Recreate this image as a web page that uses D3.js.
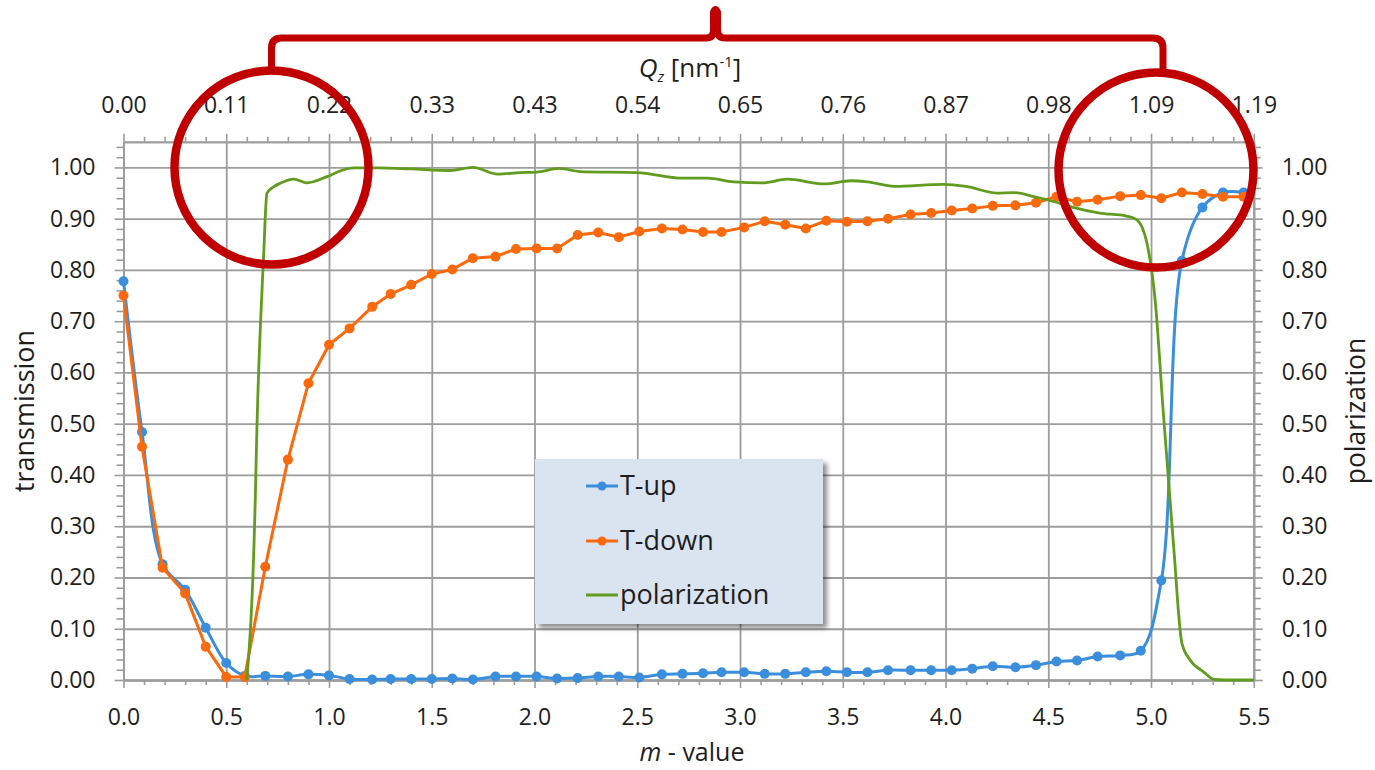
<!DOCTYPE html>
<html>
<head>
<meta charset="utf-8">
<script src="https://cdn.jsdelivr.net/npm/d3@7"></script>
<style>
  html, body { margin: 0; padding: 0; background: #ffffff; }
  svg { display: block; }
  text { font-family: "Open Sans", "Noto Sans", sans-serif; fill: #1e1e1e; }
</style>
</head>
<body>
<svg id="chart" width="1375" height="770"></svg>
<script>
// m-value of each measured point (shared by T-up and T-down)
const mValues = [0.00, 0.09, 0.19, 0.30, 0.40, 0.50, 0.59, 0.69, 0.80, 0.90,
  1.00, 1.10, 1.21, 1.30, 1.40, 1.50, 1.60, 1.70, 1.81, 1.91,
  2.01, 2.11, 2.21, 2.31, 2.41, 2.51, 2.62, 2.72, 2.82, 2.91,
  3.02, 3.12, 3.22, 3.32, 3.42, 3.52, 3.62, 3.72, 3.83, 3.93,
  4.03, 4.13, 4.23, 4.34, 4.44, 4.54, 4.64, 4.74, 4.85, 4.95,
  5.05, 5.15, 5.25, 5.35, 5.45];

// transmission, spin up
const tUp = [0.778, 0.484, 0.226, 0.176, 0.102, 0.033, 0.008, 0.008, 0.007, 0.011,
  0.009, 0.002, 0.001, 0.002, 0.002, 0.002, 0.003, 0.001, 0.007, 0.007,
  0.007, 0.003, 0.004, 0.007, 0.007, 0.005, 0.011, 0.012, 0.013, 0.015,
  0.015, 0.012, 0.012, 0.015, 0.017, 0.015, 0.015, 0.019, 0.019, 0.019,
  0.019, 0.022, 0.027, 0.025, 0.029, 0.036, 0.038, 0.046, 0.048, 0.057,
  0.194, 0.818, 0.922, 0.951, 0.951];

// transmission, spin down
const tDown = [0.750, 0.455, 0.219, 0.169, 0.065, 0.006, 0.006, 0.221, 0.430, 0.579,
  0.654, 0.686, 0.728, 0.753, 0.771, 0.792, 0.801, 0.823, 0.826, 0.841,
  0.842, 0.842, 0.868, 0.873, 0.864, 0.875, 0.881, 0.879, 0.874, 0.874,
  0.883, 0.895, 0.888, 0.881, 0.896, 0.894, 0.895, 0.900, 0.908, 0.911,
  0.916, 0.920, 0.925, 0.926, 0.931, 0.943, 0.933, 0.937, 0.944, 0.946,
  0.940, 0.951, 0.948, 0.943, 0.943];

// polarization curve (denser sampling)
const polM = [0.60, 0.641, 0.649, 0.681, 0.698, 0.73, 0.762, 0.829, 0.892, 0.99,
  1.06, 1.12, 1.24, 1.40, 1.59, 1.70, 1.82, 1.93, 2.01, 2.12,
  2.22, 2.50, 2.72, 2.84, 2.97, 3.11, 3.23, 3.41, 3.54, 3.62,
  3.75, 3.99, 4.10, 4.25, 4.33, 4.43, 4.53, 4.62, 4.75, 4.88,
  4.93, 4.98, 5.02, 5.06, 5.085, 5.11, 5.15, 5.19, 5.255, 5.31,
  5.40, 5.50];
const polV = [0.000, 0.350, 0.488, 0.820, 0.950, 0.962, 0.969, 0.977, 0.970, 0.982,
  0.994, 0.999, 0.999, 0.997, 0.994, 1.000, 0.987, 0.990, 0.991, 0.998,
  0.992, 0.990, 0.979, 0.979, 0.972, 0.970, 0.977, 0.968, 0.974, 0.972,
  0.963, 0.967, 0.963, 0.950, 0.951, 0.943, 0.933, 0.922, 0.911, 0.905,
  0.898, 0.852, 0.741, 0.520, 0.390, 0.260, 0.072, 0.039, 0.016, 0.001,
  0.000, 0.000];

// axis ticks
const mTicks = [0, 0.5, 1.0, 1.5, 2.0, 2.5, 3.0, 3.5, 4.0, 4.5, 5.0, 5.5];
const mTickLabels = ["0.0", "0.5", "1.0", "1.5", "2.0", "2.5", "3.0", "3.5", "4.0", "4.5", "5.0", "5.5"];
const qzTickLabels = ["0.00", "0.11", "0.22", "0.33", "0.43", "0.54", "0.65", "0.76", "0.87", "0.98", "1.09", "1.19"];
const mMinorTicks = [0.1, 0.2, 0.3, 0.4, 0.6, 0.7, 0.8, 0.9, 1.1, 1.2, 1.3, 1.4, 1.6, 1.7, 1.8, 1.9,
  2.1, 2.2, 2.3, 2.4, 2.6, 2.7, 2.8, 2.9, 3.1, 3.2, 3.3, 3.4, 3.6, 3.7, 3.8, 3.9,
  4.1, 4.2, 4.3, 4.4, 4.6, 4.7, 4.8, 4.9, 5.1, 5.2, 5.3, 5.4];
const yTicks = [0, 0.1, 0.2, 0.3, 0.4, 0.5, 0.6, 0.7, 0.8, 0.9, 1.0];
const yMinorTicks = [0.02, 0.04, 0.06, 0.08, 0.12, 0.14, 0.16, 0.18, 0.22, 0.24, 0.26, 0.28,
  0.32, 0.34, 0.36, 0.38, 0.42, 0.44, 0.46, 0.48, 0.52, 0.54, 0.56, 0.58,
  0.62, 0.64, 0.66, 0.68, 0.72, 0.74, 0.76, 0.78, 0.82, 0.84, 0.86, 0.88,
  0.92, 0.94, 0.96, 0.98, 1.02, 1.04];

const seriesNames = ["T-up", "T-down", "polarization"];
const colors = { up: "#3a8edc", down: "#fa6a0c", pol: "#629c1e" };

const svg = d3.select("#chart");

const plot = { left: 123.5, right: 1253.8, top: 141.8, bottom: 680 };
const x = d3.scaleLinear().domain([0, 5.5]).range([plot.left, plot.right]);
const y = d3.scaleLinear().domain([0, 1.05]).range([plot.bottom, plot.top]);

const gridColor = "#9c9c9c";
const tickFont = 23;

// ---- grid lines ----
const grid = svg.append("g");
grid.append("g")
  .attr("transform", `translate(${plot.left},0)`)
  .call(d3.axisLeft(y).tickValues(yTicks).tickSize(-(plot.right - plot.left)).tickFormat(""))
  .call(g => g.select(".domain").remove());
grid.append("g")
  .attr("transform", `translate(0,${plot.bottom})`)
  .call(d3.axisBottom(x).tickValues(mTicks).tickSize(-(plot.bottom - plot.top)).tickFormat(""))
  .call(g => g.select(".domain").remove());
grid.selectAll("line").attr("stroke", gridColor).attr("stroke-width", 1.8);

// ---- axes ----
function styleAxis(g) {
  g.selectAll(".domain").attr("stroke", gridColor).attr("stroke-width", 1.8);
  g.selectAll(".tick line").attr("stroke", gridColor).attr("stroke-width", 1.6);
  g.selectAll("text").attr("font-size", tickFont).attr("fill", "#1e1e1e")
    .style("font-family", '"Open Sans", sans-serif');
}

// left
svg.append("g").attr("transform", `translate(${plot.left},0)`)
  .call(d3.axisLeft(y).tickValues(yMinorTicks).tickSize(7).tickSizeOuter(0).tickFormat(""))
  .call(styleAxis);
svg.append("g").attr("transform", `translate(${plot.left},0)`)
  .call(d3.axisLeft(y).tickValues(yTicks).tickSize(9).tickSizeOuter(0).tickPadding(19).tickFormat(d3.format(".2f")))
  .call(styleAxis);

// right
svg.append("g").attr("transform", `translate(${plot.right},0)`)
  .call(d3.axisRight(y).tickValues(yMinorTicks).tickSize(7).tickSizeOuter(0).tickFormat(""))
  .call(styleAxis);
svg.append("g").attr("transform", `translate(${plot.right},0)`)
  .call(d3.axisRight(y).tickValues(yTicks).tickSize(9).tickSizeOuter(0).tickPadding(19).tickFormat(d3.format(".2f")))
  .call(styleAxis);

// bottom
svg.append("g").attr("transform", `translate(0,${plot.bottom})`)
  .call(d3.axisBottom(x).tickValues(mMinorTicks).tickSize(5).tickSizeOuter(0).tickFormat(""))
  .call(styleAxis);
svg.append("g").attr("transform", `translate(0,${plot.bottom})`)
  .call(d3.axisBottom(x).tickValues(mTicks).tickSize(8).tickSizeOuter(0).tickFormat((d, i) => mTickLabels[i]))
  .call(styleAxis)
  .call(g => g.selectAll("text").attr("y", 45).attr("dy", 0));

// top (Qz)
svg.append("g").attr("transform", `translate(0,${plot.top})`)
  .call(d3.axisTop(x).tickValues(mMinorTicks).tickSize(5).tickSizeOuter(0).tickFormat(""))
  .call(styleAxis);
svg.append("g").attr("transform", `translate(0,${plot.top})`)
  .call(d3.axisTop(x).tickValues(mTicks).tickSize(8).tickSizeOuter(0).tickFormat((d, i) => qzTickLabels[i]))
  .call(styleAxis)
  .call(g => g.selectAll("text").attr("y", -29).attr("dy", 0));

// ---- axis titles ----
const bottomTitle = svg.append("text")
  .attr("x", 692).attr("y", 761).attr("text-anchor", "middle").attr("font-size", 25);
bottomTitle.append("tspan").attr("font-style", "italic").text("m");
bottomTitle.append("tspan").text(" - value");

const topTitle = svg.append("text")
  .attr("x", 690).attr("y", 77).attr("text-anchor", "middle").attr("font-size", 26);
topTitle.append("tspan").attr("font-style", "italic").text("Q");
topTitle.append("tspan").attr("font-style", "italic").attr("font-size", 15).attr("dy", 5).text("z");
topTitle.append("tspan").attr("dy", -5).text(" [nm");
topTitle.append("tspan").attr("font-size", 15).attr("dy", -10).text("-1");
topTitle.append("tspan").attr("dy", 10).text("]");

svg.append("text")
  .attr("transform", "translate(34,411) rotate(-90)")
  .attr("text-anchor", "middle").attr("font-size", 27).text("transmission");
svg.append("text")
  .attr("transform", "translate(1365,411) rotate(-90)")
  .attr("text-anchor", "middle").attr("font-size", 26.5).text("polarization");

// ---- series ----
const upPts = mValues.map((m, i) => [m, tUp[i]]);
const downPts = mValues.map((m, i) => [m, tDown[i]]);
const polPts = polM.map((m, i) => [m, polV[i]]);

const smooth = d3.line().x(d => x(d[0])).y(d => y(d[1])).curve(d3.curveCatmullRom.alpha(0.5));
const straight = d3.line().x(d => x(d[0])).y(d => y(d[1])).curve(d3.curveLinear);
const mono = d3.line().x(d => x(d[0])).y(d => y(d[1])).curve(d3.curveMonotoneX);

const series = svg.append("g");

series.append("path").datum(upPts)
  .attr("d", smooth).attr("fill", "none").attr("stroke", colors.up)
  .attr("stroke-width", 3).attr("stroke-linejoin", "round");
series.append("g").selectAll("circle").data(upPts).join("circle")
  .attr("cx", d => x(d[0])).attr("cy", d => y(d[1])).attr("r", 5).attr("fill", colors.up);

series.append("path").datum(downPts)
  .attr("d", straight).attr("fill", "none").attr("stroke", colors.down)
  .attr("stroke-width", 3).attr("stroke-linejoin", "round");
series.append("g").selectAll("circle").data(downPts).join("circle")
  .attr("cx", d => x(d[0])).attr("cy", d => y(d[1])).attr("r", 5).attr("fill", colors.down);

series.append("path").datum(polPts)
  .attr("d", mono).attr("fill", "none").attr("stroke", colors.pol)
  .attr("stroke-width", 2.8).attr("stroke-linejoin", "round");

// ---- legend ----
const defs = svg.append("defs");
const shadow = defs.append("filter").attr("id", "legendShadow")
  .attr("x", "-10%").attr("y", "-10%").attr("width", "130%").attr("height", "130%");
shadow.append("feGaussianBlur").attr("in", "SourceAlpha").attr("stdDeviation", 2.5).attr("result", "b");
shadow.append("feOffset").attr("in", "b").attr("dx", 4).attr("dy", 4).attr("result", "o");
shadow.append("feComponentTransfer").attr("in", "o").attr("result", "s")
  .append("feFuncA").attr("type", "linear").attr("slope", 0.45);
const merge = shadow.append("feMerge");
merge.append("feMergeNode").attr("in", "s");
merge.append("feMergeNode").attr("in", "SourceGraphic");

const legend = svg.append("g").attr("transform", "translate(535,459)");
legend.append("rect").attr("width", 288).attr("height", 165)
  .attr("fill", "#dae4f1").attr("filter", "url(#legendShadow)");
const legendColors = [colors.up, colors.down, colors.pol];
const legendRows = [27, 82, 136];
seriesNames.forEach((name, i) => {
  const gy = legendRows[i];
  legend.append("line").attr("x1", 51).attr("x2", 83).attr("y1", gy).attr("y2", gy)
    .attr("stroke", legendColors[i]).attr("stroke-width", 3);
  if (i < 2) {
    legend.append("circle").attr("cx", 67).attr("cy", gy).attr("r", 4.5).attr("fill", legendColors[i]);
  }
  legend.append("text").attr("x", 85).attr("y", gy + 9).attr("font-size", 27).text(name);
});

// ---- highlight annotations ----
const red = "#c00000";
const notes = svg.append("g").attr("fill", "none").attr("stroke", red)
  .attr("stroke-linejoin", "round").attr("stroke-linecap", "round");
notes.append("circle").attr("cx", 271.5).attr("cy", 167.5).attr("r", 97).attr("stroke-width", 8.5);
notes.append("circle").attr("cx", 1156).attr("cy", 170).attr("r", 97.5).attr("stroke-width", 8.5);
notes.append("path").attr("stroke-width", 7)
  .attr("d", "M271.5,68 L271.5,48 Q271.5,38 281.5,38 L706,38 Q713.5,38 713.5,30 L713.5,12 Q715.5,7 717.5,12 L717.5,30 Q717.5,38 725,38 L1153,38 Q1163,38 1163,48 L1163,70");
</script>
</body>
</html>
